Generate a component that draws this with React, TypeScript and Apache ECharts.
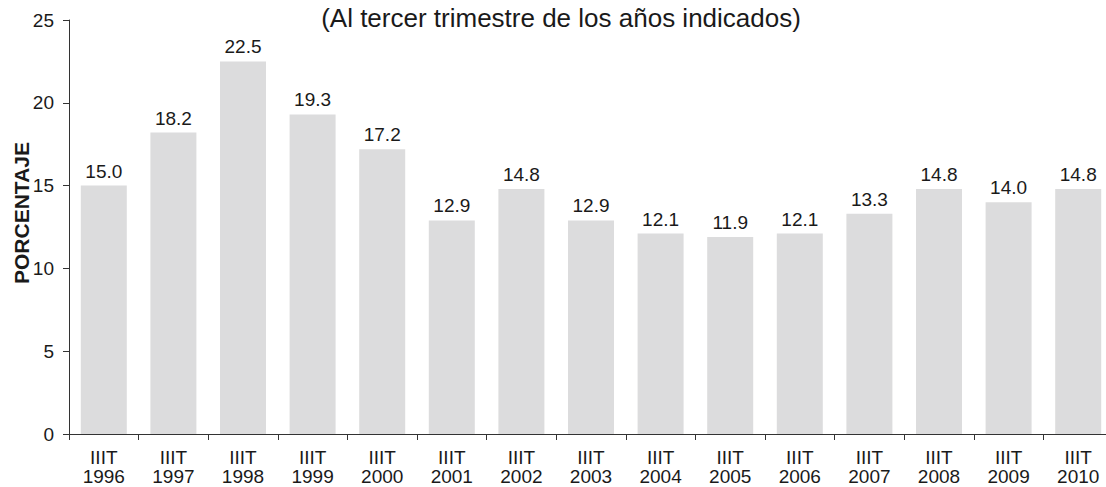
import React, { useEffect, useRef } from "react";
import * as echarts from "echarts";

const years = ["1996","1997","1998","1999","2000","2001","2002","2003","2004","2005","2006","2007","2008","2009","2010"];
const values = [15.0, 18.2, 22.5, 19.3, 17.2, 12.9, 14.8, 12.9, 12.1, 11.9, 12.1, 13.3, 14.8, 14.0, 14.8];
const categories = years.map((y) => "IIIT\n" + y);
const titleText = "(Al tercer trimestre de los años indicados)";
const yName = "PORCENTAJE";

const FONT = "'Liberation Sans', Arial, sans-serif";

export default function App() {
  const ref = useRef<HTMLDivElement>(null);
  useEffect(() => {
    if (!ref.current) return;
    const chart = echarts.init(ref.current, null, { renderer: "svg" });
    chart.setOption({
      animation: false,
      backgroundColor: "#ffffff",
      textStyle: { fontFamily: FONT },
      title: {
        text: titleText,
        left: 556,
        top: 0,
        textAlign: "center",
        textStyle: { fontSize: 26, fontWeight: "normal", color: "#1a1a1a", fontFamily: FONT },
      },
      graphic: [
        {
          type: "text",
          x: 21,
          y: 213,
          rotation: Math.PI / 2,
          style: {
            text: yName,
            fill: "#1a1a1a",
            font: "bold 21px 'Liberation Sans', Arial, sans-serif",
            align: "center",
            verticalAlign: "middle",
          },
        },
      ],
      grid: { left: 69, width: 1044, top: 20, bottom: 53, containLabel: false, outerBoundsMode: "none" },
      xAxis: {
        type: "category",
        data: categories,
        axisLine: { show: true, lineStyle: { color: "#333", width: 1 } },
        axisTick: { show: true, alignWithLabel: false, length: 6, lineStyle: { color: "#333" } },
        axisLabel: { color: "#1a1a1a", fontSize: 19, lineHeight: 19, margin: 14, interval: 0, fontFamily: FONT },
      },
      yAxis: {
        type: "value",
        min: 0,
        max: 25,
        interval: 5,
        axisLine: { show: true, lineStyle: { color: "#333", width: 1 } },
        axisTick: { show: true, length: 6, lineStyle: { color: "#333" } },
        axisLabel: { color: "#1a1a1a", fontSize: 19, margin: 15, fontFamily: FONT },
        splitLine: { show: false },
      },
      series: [
        {
          type: "bar",
          data: values,
          barWidth: 46,
          itemStyle: { color: "#dcdcdd" },
          label: {
            show: true,
            position: "top",
            distance: 5,
            formatter: (p: any) => Number(p.value).toFixed(1),
            fontSize: 19,
            color: "#1a1a1a",
            fontFamily: FONT,
          },
        },
      ],
    });
    return () => chart.dispose();
  }, []);
  return <div ref={ref} style={{ width: 1106, height: 487, position: "absolute", left: 0, top: 0 }} />;
}
